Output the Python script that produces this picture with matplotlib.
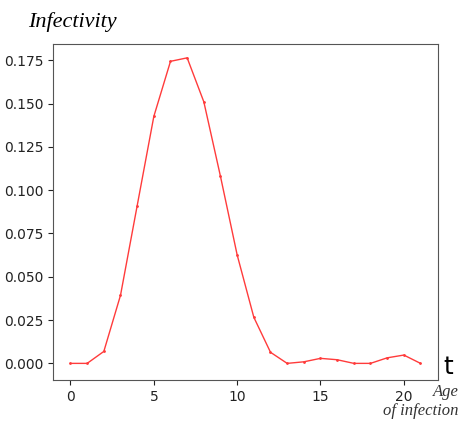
import matplotlib.pyplot as plt
import numpy as np

days = np.arange(0, 22)
infectivity = [0.0, 0.0, 0.0069, 0.0393, 0.091, 0.1426, 0.1744, 0.1764,
               0.1510, 0.1079, 0.0626, 0.0266, 0.0064, 0.0, 0.0009, 0.0029,
               0.0021, 0.0, 0.0, 0.0032, 0.0048, 0.0]
yticks = [0.0, 0.025, 0.05, 0.075, 0.1, 0.125, 0.15, 0.175]

fig = plt.figure(figsize=(4.6, 4.21), dpi=100)
ax = fig.add_axes([53 / 460, 1 - 380 / 421, 385 / 460, 336 / 421])

ax.plot(days, infectivity, color='#ff3b3b', lw=1.0, marker='.', markersize=2)
ax.set_xticks([0, 5, 10, 15, 20])
ax.set_yticks(yticks)
ax.set_yticklabels(['%.3f' % v for v in yticks])
ax.set_xlim(-1.05, 22.05)
ax.set_ylim(-0.0096, 0.1844)
ax.tick_params(labelsize=10, colors='#222222')
for s in ax.spines.values():
    s.set_color('#555555')

fig.text(28 / 460, 1 - 22 / 421, 'Infectivity', family='Liberation Serif',
         style='italic', fontsize=16, va='center', ha='left')
fig.text(443 / 460, 1 - 367 / 421, 't', fontsize=18, va='center', ha='left')
fig.text(459 / 460, 1 - 392 / 421, 'Age', family='Liberation Serif',
         style='italic', fontsize=12, va='center', ha='right', color='#333333')
fig.text(459 / 460, 1 - 411 / 421, 'of infection', family='Liberation Serif',
         style='italic', fontsize=12, va='center', ha='right', color='#333333')

fig.savefig('out.png', dpi=100)
